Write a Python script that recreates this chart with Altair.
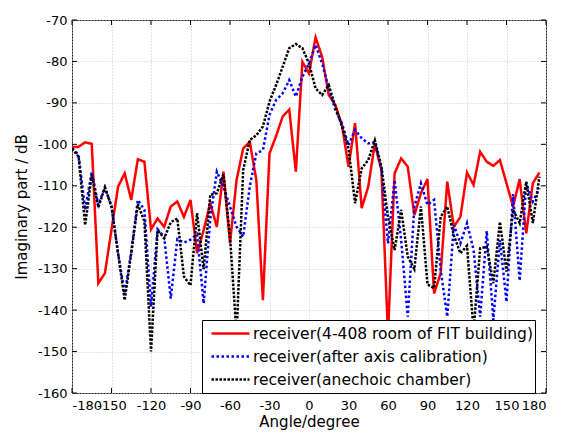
import altair as alt
import pandas as pd

angles = list(range(-180, 180, 5))

S1 = "receiver(4-408 room of FIT building)"
S2 = "receiver(after axis calibration)"
S3 = "receiver(anechoic chamber)"

red = [-100.7, -100.6, -99.5, -99.9, -133.5, -131.1, -120.6, -110.2, -107.0, -113.4,
       -103.6, -104.2, -120.5, -117.9, -119.9, -115.0, -113.8, -117.5, -113.4, -126.3,
       -120.7, -114.2, -119.9, -106.6, -123.9, -108.6, -101.0, -99.4, -108.6, -137.6,
       -102.2, -98.0, -93.3, -91.6, -106.6, -80.1, -82.9, -74.2, -78.9, -88.1,
       -90.5, -95.3, -105.4, -94.9, -115.4, -110.2, -99.8, -106.2, -146.0, -107.0,
       -103.4, -105.4, -117.1, -111.8, -108.4, -136.0, -131.1, -109.0, -119.9, -117.5,
       -106.8, -109.8, -101.8, -104.2, -105.2, -103.8, -109.4, -115.0, -108.4, -121.5,
       -109.4, -106.8]

blue = [-101.0, -102.5, -115.8, -106.6, -114.6, -110.4, -115.0, -126.3, -136.0, -126.0,
        -113.4, -115.8, -139.2, -120.5, -122.3, -137.2, -122.9, -123.7, -123.0, -121.7,
        -138.4, -118.0, -106.6, -110.2, -115.0, -119.9, -122.3, -110.2, -102.2, -101.4,
        -92.9, -89.3, -87.7, -84.5, -88.5, -83.7, -80.5, -76.0, -80.5, -86.5,
        -91.7, -94.9, -100.2, -96.5, -98.5, -99.8, -99.4, -106.2, -123.9, -108.6,
        -123.1, -141.6, -115.0, -109.4, -114.6, -113.4, -130.3, -141.6, -119.5, -123.9,
        -119.0, -125.5, -141.6, -120.9, -142.4, -123.1, -138.0, -112.0, -132.9, -109.4,
        -113.8, -110.6]

black = [-101.0, -103.0, -119.5, -107.3, -115.2, -110.4, -115.0, -126.3, -137.6, -126.3,
         -114.4, -118.6, -150.0, -120.7, -122.7, -118.8, -117.9, -131.9, -134.0, -116.6,
         -130.1, -112.2, -111.8, -107.2, -122.3, -146.0, -106.2, -99.0, -97.8, -95.7,
         -89.7, -85.7, -81.3, -76.8, -75.8, -76.8, -80.5, -86.5, -88.1, -85.7,
         -90.9, -95.7, -101.0, -114.2, -105.8, -103.8, -99.0, -105.4, -117.5, -125.5,
         -115.8, -127.1, -130.1, -115.0, -133.8, -134.7, -117.5, -115.0, -122.0, -126.3,
         -124.5, -145.0, -125.1, -124.7, -133.5, -118.7, -130.7, -115.8, -119.0, -109.0,
         -119.0, -107.8]

x_ticks = list(range(-180, 181, 30))
y_ticks = list(range(-160, -69, 10))

W, H = 474, 373
FONT = "DejaVu Sans"
FS = 15
LS = 15.5
TS = 13

rows = []
for name, vals in [(S1, red), (S2, blue), (S3, black)]:
    for a, v in zip(angles, vals):
        rows.append({"angle": a, "db": v, "series": name})
df = pd.DataFrame(rows)

x_enc = alt.X("angle:Q", scale=alt.Scale(domain=[-180, 180], nice=False, zero=False),
              axis=alt.Axis(values=x_ticks, title="Angle/degree", labelPadding=6,
                            titlePadding=2, labelOverlap=False, labelFlush=True,
                            labelExpr="'' + datum.value"))
y_enc = alt.Y("db:Q", scale=alt.Scale(domain=[-160, -70], nice=False, zero=False),
              axis=alt.Axis(values=y_ticks, title="Imaginary part / dB", labelPadding=5,
                            titlePadding=8, labelOverlap=False, labelFlush=False,
                            labelExpr="'' + datum.value"))

leg = dict(title=None, orient="none", legendX=130, legendY=300,
           symbolType="stroke", symbolSize=1444, symbolStrokeWidth=2.5,
           symbolOffset=6, labelOffset=2,
           labelFont=FONT, labelFontSize=LS, labelColor="black",
           clipHeight=23, rowPadding=0,
           strokeColor="black", fillColor="white", padding=2,
           labelLimit=600)

color = alt.Color("series:N",
                  scale=alt.Scale(domain=[S1, S2, S3], range=["#ff0000", "#0000ff", "#000000"]),
                  legend=alt.Legend(**leg))
dash = alt.StrokeDash("series:N",
                      scale=alt.Scale(domain=[S1, S2, S3], range=[[1, 0], [2.5, 2.5], [2.5, 1.5]]),
                      legend=alt.Legend(**leg))

base = alt.Chart(df)
layers = []
for s in [S1, S2, S3]:
    layers.append(base.transform_filter(alt.datum.series == s)
                  .mark_line(strokeWidth=2.5, clip=True)
                  .encode(x=x_enc, y=y_enc, color=color, strokeDash=dash))

xt_df = pd.DataFrame({"angle": x_ticks})
yt_df = pd.DataFrame({"db": y_ticks})
tick_bottom = alt.Chart(xt_df).mark_rule(color="black", strokeWidth=1).encode(
    x=x_enc, y=alt.value(H), y2=alt.value(H - 5))
tick_top = alt.Chart(xt_df).mark_rule(color="black", strokeWidth=1).encode(
    x=x_enc, y=alt.value(0), y2=alt.value(5))
tick_left = alt.Chart(yt_df).mark_rule(color="black", strokeWidth=1).encode(
    y=y_enc, x=alt.value(0), x2=alt.value(5))
tick_right = alt.Chart(yt_df).mark_rule(color="black", strokeWidth=1).encode(
    y=y_enc, x=alt.value(W), x2=alt.value(W - 5))

chart = alt.layer(*layers, tick_bottom, tick_top, tick_left, tick_right).properties(
    width=W, height=H,
    autosize=alt.AutoSizeParams(type="none"),
    padding={"left": 72, "top": 20, "right": 17, "bottom": 38},
    background="white",
).configure_view(stroke="#222222", strokeWidth=1).configure_axis(
    domain=False, ticks=False, grid=True, gridColor="#c8c8c8", gridDash=[1, 2],
    gridWidth=1, labelFont=FONT, labelFontSize=TS, labelColor="black",
    titleFont=FONT, titleFontSize=FS, titleColor="black", titleFontWeight="normal",
)

chart.save("out.html", embed_options={"renderer": "svg", "actions": False})
